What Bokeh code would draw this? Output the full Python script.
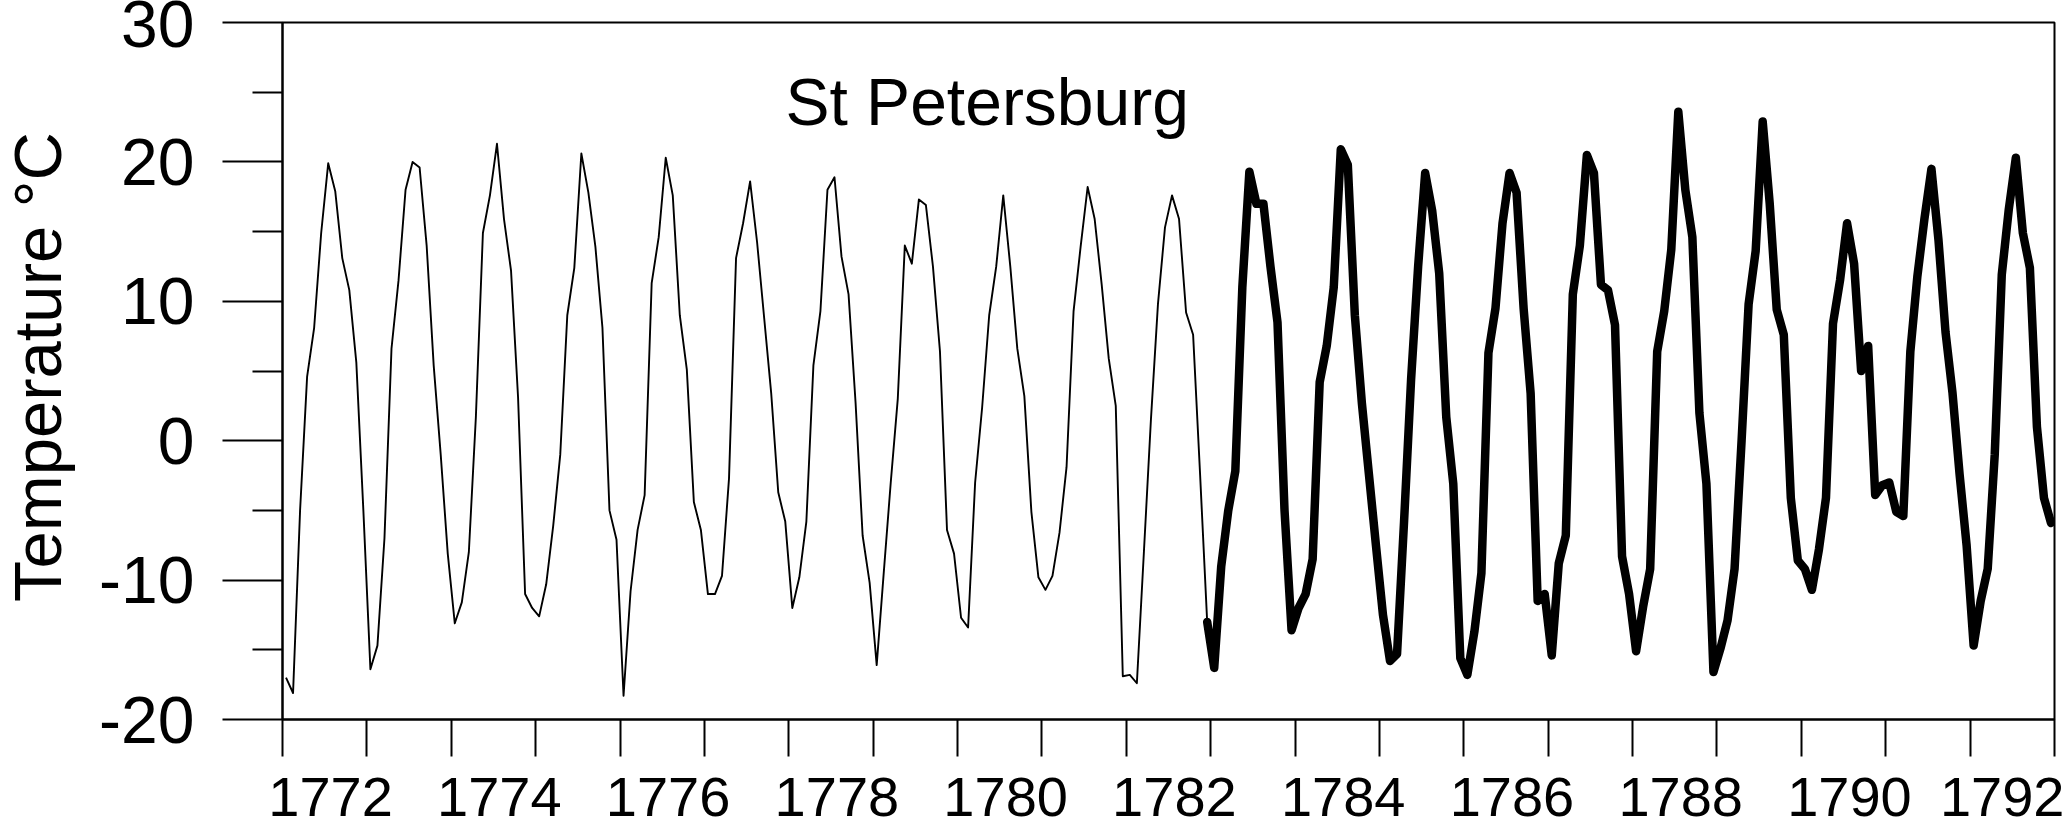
import math
from bokeh.plotting import figure
from bokeh.models import Range1d, FixedTicker, Label
from bokeh.embed import file_html
from bokeh.resources import INLINE

# ---------------- data (monthly mean temperatures, St Petersburg) ----------------
start_year = 1772
end_year = 1793
# thin series: Jan 1772 .. Dec 1782
thin_temps = [
    -17.0, -18.1, -5.0, 4.6, 8.1, 14.9, 19.9, 17.9, 13.1, 10.8, 5.6, -5.0,     # 1772
    -16.4, -14.7, -7.0, 6.6, 11.5, 18.0, 20.0, 19.6, 14.0, 5.4, -1.0, -8.1,    # 1773
    -13.1, -11.6, -8.0, 1.7, 14.9, 17.6, 21.3, 15.9, 12.2, 3.1, -11.0, -12.0,  # 1774
    -12.6, -10.3, -6.1, -1.0, 9.0, 12.4, 20.6, 17.8, 13.9, 8.1, -5.0, -7.1,    # 1775
    -18.3, -10.8, -6.4, -3.9, 11.3, 14.6, 20.3, 17.6, 9.0, 5.1, -4.4, -6.4,    # 1776
    -11.0, -11.0, -9.7, -2.7, 13.1, 15.6, 18.6, 14.2, 8.8, 3.4, -3.7, -5.8,    # 1777
    -12.0, -9.8, -5.8, 5.4, 9.3, 18.0, 18.9, 13.2, 10.5, 2.7, -6.8, -10.2,     # 1778
    -16.1, -9.5, -3.0, 3.0, 14.0, 12.7, 17.3, 16.9, 12.5, 6.4, -6.4, -8.1,     # 1779
    -12.7, -13.4, -3.0, 2.4, 9.0, 12.5, 17.6, 12.5, 6.6, 3.2, -5.1, -9.8,      # 1780
    -10.7, -9.7, -6.6, -1.9, 9.3, 13.9, 18.2, 15.9, 11.2, 5.9, 2.5, -16.9,     # 1781
    -16.8, -17.4, -8.0, 1.5, 9.8, 15.3, 17.6, 15.9, 9.2, 7.6, -2.5, -13.0,     # 1782
]
# thick series: Dec 1782 .. Dec 1792
thick_start_month = 131
thick_temps = [
    -13.0,                                                                      # Dec 1782
    -16.3, -9.0, -5.0, -2.2, 11.0, 19.3, 17.0, 17.0, 12.5, 8.5, -5.0, -13.6,   # 1783
    -12.0, -11.0, -8.5, 4.2, 6.8, 11.0, 20.9, 19.8, 9.0, 2.7, -2.4, -7.5,      # 1784
    -12.5, -15.8, -15.3, -5.8, 4.4, 12.5, 19.2, 16.5, 12.0, 1.7, -3.1, -15.6,  # 1785
    -16.8, -13.7, -9.5, 6.3, 9.5, 15.6, 19.2, 17.8, 9.5, 3.4, -11.5, -11.0,    # 1786
    -15.4, -8.8, -6.8, 10.5, 14.0, 20.5, 19.2, 11.2, 10.8, 8.3, -8.3, -11.0,   # 1787
    -15.1, -11.9, -9.2, 6.4, 9.3, 13.7, 23.6, 18.0, 14.6, 2.0, -3.1, -16.6,    # 1788
    -14.9, -12.9, -9.2, 0.0, 9.8, 13.6, 22.9, 17.0, 9.4, 7.6, -4.1, -8.6,      # 1789
    -9.2, -10.7, -7.8, -4.1, 8.4, 11.5, 15.6, 12.7, 5.0, 6.8, -3.9, -3.2,      # 1790
    -3.0, -5.1, -5.4, 6.4, 11.8, 15.9, 19.5, 14.4, 7.8, 3.4, -2.4, -7.5,       # 1791
    -14.7, -11.5, -9.2, -1.0, 11.9, 16.6, 20.3, 14.9, 12.4, 1.0, -4.1, -5.9,   # 1792
]
label_years = [1772, 1774, 1776, 1778, 1780, 1782, 1784, 1786, 1788, 1790, 1792]
y_major = [-20, -10, 0, 10, 20, 30]
y_minor = [-15, -5, 5, 15, 25]
station = "St Petersburg"
y_title = "Temperature °C"

# month centres in decimal years
thin_x = [start_year + (i + 0.5) / 12 for i in range(len(thin_temps))]
thick_x = [start_year + (thick_start_month + i + 0.5) / 12 for i in range(len(thick_temps))]

FONT = "Liberation Sans"

p = figure(width=2067, height=829, output_backend="svg", toolbar_location=None,
           x_range=Range1d(start_year, end_year), y_range=Range1d(-20, 30),
           min_border_left=282, min_border_top=22, min_border_right=13, min_border_bottom=110)
p.xgrid.visible = False
p.ygrid.visible = False
p.outline_line_color = "black"
p.outline_line_width = 2
p.background_fill_color = "white"
p.border_fill_color = "white"

p.line(thin_x, thin_temps, line_color="black", line_width=1.9, line_join="round")
p.line(thick_x, thick_temps, line_color="black", line_width=8.5, line_join="round", line_cap="round")

# y axis
ya = p.yaxis[0]
ya.ticker = FixedTicker(ticks=y_major, minor_ticks=y_minor)
ya.major_label_overrides = {v: str(v) for v in y_major}
ya.major_tick_out = 60
ya.major_tick_in = 0
ya.minor_tick_out = 30
ya.minor_tick_in = 0
ya.major_tick_line_width = 2
ya.minor_tick_line_width = 2
ya.axis_line_width = 2
ya.major_tick_line_color = "black"
ya.minor_tick_line_color = "black"
ya.axis_line_color = "black"
ya.major_label_standoff = 28
ya.major_label_text_font = FONT
ya.major_label_text_font_size = "66px"
ya.major_label_text_color = "black"

# y title: a label in the left side panel (not clipped to the frame)
p.add_layout(Label(x=1769.10, y=5.29, text=y_title, text_font=FONT,
                   text_font_size="67px", text_color="black", angle=math.pi / 2,
                   text_align="center", text_baseline="alphabetic"), "left")

# x axis: tick marks at year boundaries, labels near year centres
label_pos = [min(yr + 0.57, end_year - 0.62) for yr in label_years]
xa = p.xaxis[0]
xa.ticker = FixedTicker(ticks=label_pos, minor_ticks=list(range(start_year, end_year + 1)))
xa.major_label_overrides = {pos: str(yr) for pos, yr in zip(label_pos, label_years)}
xa.major_tick_out = 0
xa.major_tick_in = 0
xa.minor_tick_out = 37
xa.minor_tick_in = 0
xa.minor_tick_line_width = 2
xa.minor_tick_line_color = "black"
xa.axis_line_width = 2
xa.axis_line_color = "black"
xa.major_label_standoff = 21
xa.major_label_text_font = FONT
xa.major_label_text_font_size = "56px"
xa.major_label_text_color = "black"

# station name
p.add_layout(Label(x=1777.96, y=24.3, text=station, text_font=FONT,
                   text_font_size="66px", text_color="black",
                   text_align="left", text_baseline="alphabetic"))

open("out.html", "w").write(file_html(p, INLINE))
